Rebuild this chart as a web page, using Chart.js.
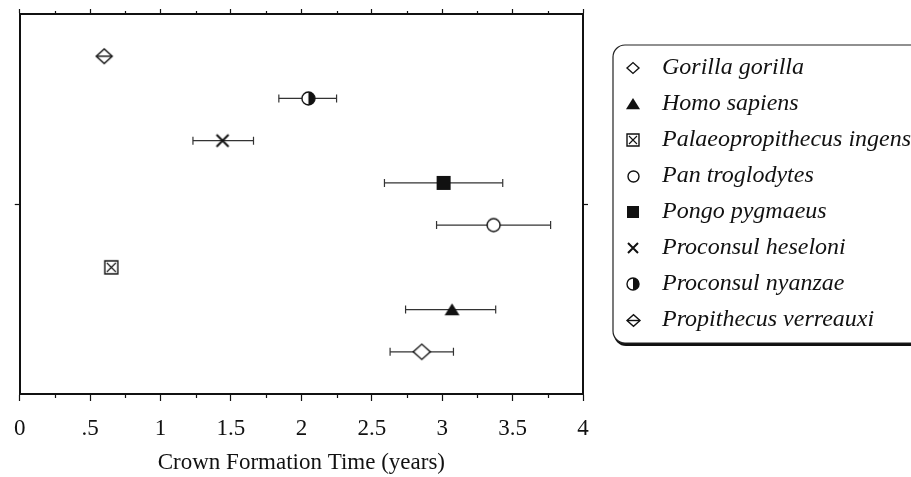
<!DOCTYPE html>
<html>
<head>
<meta charset="utf-8">
<script src="https://cdn.jsdelivr.net/npm/chart.js@4.4.1/dist/chart.umd.min.js"></script>
<style>
  html, body { margin: 0; padding: 0; background: #fff; }
  #wrap { position: relative; width: 911px; height: 477px; }
</style>
</head>
<body>
<div id="wrap"><canvas id="chart"></canvas></div>
<script>
// species in legend order
const species = ['Gorilla gorilla', 'Homo sapiens', 'Palaeopropithecus ingens', 'Pan troglodytes',
  'Pongo pygmaeus', 'Proconsul heseloni', 'Proconsul nyanzae', 'Propithecus verreauxi'];
const crownTime = [2.855, 3.07, 0.65, 3.365, 3.01, 1.44, 2.05, 0.60];
const errLow = [2.63, 2.74, null, 2.96, 2.59, 1.23, 1.84, null];
const errHigh = [3.08, 3.38, null, 3.77, 3.43, 1.66, 2.25, null];
// row on the (unlabelled) vertical axis, counted from the top
const rowPos = [8, 7, 6, 5, 4, 3, 2, 1];
const xTickLabels = ['0', '.5', '1', '1.5', '2', '2.5', '3', '3.5', '4'];
const xMinorTicks = [0.25, 0.75, 1.25, 1.75, 2.25, 2.75, 3.25, 3.75];

const markerKinds = ['diamond', 'triangle', 'boxx', 'circle', 'square', 'cross', 'half', 'diamondline'];
const markerSizes = [17, 15, 13, 13, 14, 12, 13, 16];
const legendSizes = [12, 14, 12, 11, 12, 10, 12, 13];

const INK = '#111';
const SERIF = '"Liberation Serif", "Times New Roman", serif';

function makeMarker(kind, size) {
  const pad = 3;
  const c = document.createElement('canvas');
  c.width = c.height = size + pad * 2;
  const g = c.getContext('2d');
  const m = c.width / 2, r = size / 2;
  g.strokeStyle = INK;
  g.fillStyle = '#fff';
  g.lineWidth = 1.4;
  g.beginPath();
  switch (kind) {
    case 'diamond':
    case 'diamondline':
      g.moveTo(m - r, m); g.lineTo(m, m - r * 0.9); g.lineTo(m + r, m); g.lineTo(m, m + r * 0.9);
      g.closePath(); g.fill(); g.stroke();
      if (kind === 'diamondline') {
        g.beginPath(); g.moveTo(m - r, m); g.lineTo(m + r, m); g.stroke();
      }
      break;
    case 'triangle':
      g.fillStyle = INK;
      g.moveTo(m, m - r * 0.85); g.lineTo(m + r, m + r * 0.75); g.lineTo(m - r, m + r * 0.75);
      g.closePath(); g.fill();
      break;
    case 'boxx':
      g.rect(m - r, m - r, size, size); g.fill(); g.stroke();
      g.beginPath();
      g.moveTo(m - r + 2, m - r + 2); g.lineTo(m + r - 2, m + r - 2);
      g.moveTo(m + r - 2, m - r + 2); g.lineTo(m - r + 2, m + r - 2);
      g.lineWidth = 1.1; g.stroke();
      break;
    case 'circle':
      g.arc(m, m, r, 0, Math.PI * 2); g.fill(); g.stroke();
      break;
    case 'square':
      g.fillStyle = INK; g.fillRect(m - r, m - r, size, size);
      break;
    case 'cross':
      g.lineWidth = 2;
      g.moveTo(m - r, m - r); g.lineTo(m + r, m + r); g.moveTo(m + r, m - r); g.lineTo(m - r, m + r);
      g.stroke();
      break;
    case 'half':
      g.arc(m, m, r, 0, Math.PI * 2); g.fill(); g.stroke();
      g.beginPath(); g.fillStyle = INK;
      g.arc(m, m, r, -Math.PI / 2, Math.PI / 2); g.closePath(); g.fill();
      break;
  }
  return c;
}

const legendMarkers = markerKinds.map((k, i) => makeMarker(k, legendSizes[i]));

const datasets = [];
species.forEach((name, i) => {
  datasets.push({
    label: name,
    data: [{ x: crownTime[i], y: rowPos[i] }],
    pointStyle: makeMarker(markerKinds[i], markerSizes[i]),
    pointRadius: 8,
    order: 0
  });
  if (errLow[i] != null) {
    datasets.push({
      label: name + ' range',
      data: [{ x: errLow[i], y: rowPos[i] }, { x: errHigh[i], y: rowPos[i] }],
      showLine: true,
      borderColor: '#333',
      borderWidth: 1.2,
      pointStyle: 'line',
      pointRotation: 90,
      pointRadius: 4,
      pointBorderColor: '#333',
      pointBorderWidth: 1.2,
      order: 1
    });
  }
});

// short ticks between the labelled ones, top and bottom
const minorTicks = {
  id: 'minorTicks',
  afterDraw(chart) {
    const ctx = chart.ctx, xs = chart.scales.x, a = chart.chartArea;
    ctx.save();
    ctx.strokeStyle = INK;
    ctx.lineWidth = 1.2;
    xMinorTicks.forEach(v => {
      const px = Math.round(xs.getPixelForValue(v)) + 0.5;
      ctx.beginPath();
      ctx.moveTo(px, a.bottom); ctx.lineTo(px, a.bottom + 4);
      ctx.moveTo(px, a.top); ctx.lineTo(px, a.top - 3);
      ctx.stroke();
    });
    ctx.restore();
  }
};

// rounded legend box with a drop shadow, runs off the right edge like the original
const boxLegend = {
  id: 'boxLegend',
  afterDraw(chart) {
    const ctx = chart.ctx;
    const L = 613, T = 45, W = 330, H = 298, R = 12;
    ctx.save();
    ctx.fillStyle = '#111';
    ctx.beginPath(); ctx.roundRect(L + 1, T + 3, W, H, R); ctx.fill();
    ctx.fillStyle = '#fff';
    ctx.strokeStyle = '#222';
    ctx.lineWidth = 1.2;
    ctx.beginPath(); ctx.roundRect(L, T, W, H, R); ctx.fill(); ctx.stroke();
    ctx.font = 'italic 24px ' + SERIF;
    ctx.fillStyle = INK;
    ctx.textBaseline = 'middle';
    species.forEach((name, i) => {
      const y = 68 + i * 36;
      const img = legendMarkers[i];
      ctx.drawImage(img, Math.round(633 - img.width / 2), Math.round(y - img.height / 2));
      ctx.fillText(name, 662, y);
    });
    ctx.restore();
  }
};

const frameBorder = { display: true, color: INK, width: 2 };
const sideGrid = { drawOnChartArea: false, drawTicks: true, tickLength: 5, tickColor: INK, tickWidth: 1.2 };

new Chart(document.getElementById('chart'), {
  type: 'scatter',
  data: { datasets: datasets },
  options: {
    responsive: true,
    maintainAspectRatio: false,
    animation: false,
    events: [],
    layout: { padding: 0 },
    plugins: { legend: { display: false }, tooltip: { enabled: false } },
    scales: {
      x: {
        type: 'linear', position: 'bottom', min: 0, max: 4,
        ticks: {
          stepSize: 0.5, autoSkip: false, maxRotation: 0, padding: 14,
          callback: (v, i) => xTickLabels[i],
          font: { family: SERIF, size: 23 }, color: INK
        },
        grid: { drawOnChartArea: false, drawTicks: true, tickLength: 7, tickColor: INK, tickWidth: 1.2 },
        border: frameBorder,
        title: {
          display: true, text: 'Crown Formation Time (years)',
          font: { family: SERIF, size: 23 }, color: INK,
          padding: { top: 0, bottom: 0 }
        },
        afterFit: s => { s.height = 83; }
      },
      xTop: {
        type: 'linear', position: 'top', min: 0, max: 4,
        ticks: { display: false, stepSize: 0.5 },
        grid: sideGrid,
        border: frameBorder,
        afterFit: s => { s.height = 14; }
      },
      y: {
        type: 'linear', position: 'left', min: 0, max: 9, reverse: true,
        ticks: { display: false },
        afterBuildTicks: s => { s.ticks = [{ value: 4.5 }]; },
        grid: sideGrid,
        border: frameBorder,
        afterFit: s => { s.width = 18; }
      },
      yRight: {
        type: 'linear', position: 'right', min: 0, max: 9, reverse: true,
        ticks: { display: false },
        afterBuildTicks: s => { s.ticks = [{ value: 4.5 }]; },
        grid: sideGrid,
        border: frameBorder,
        afterFit: s => { s.width = 328; }
      }
    }
  },
  plugins: [minorTicks, boxLegend]
});
</script>
</body>
</html>
